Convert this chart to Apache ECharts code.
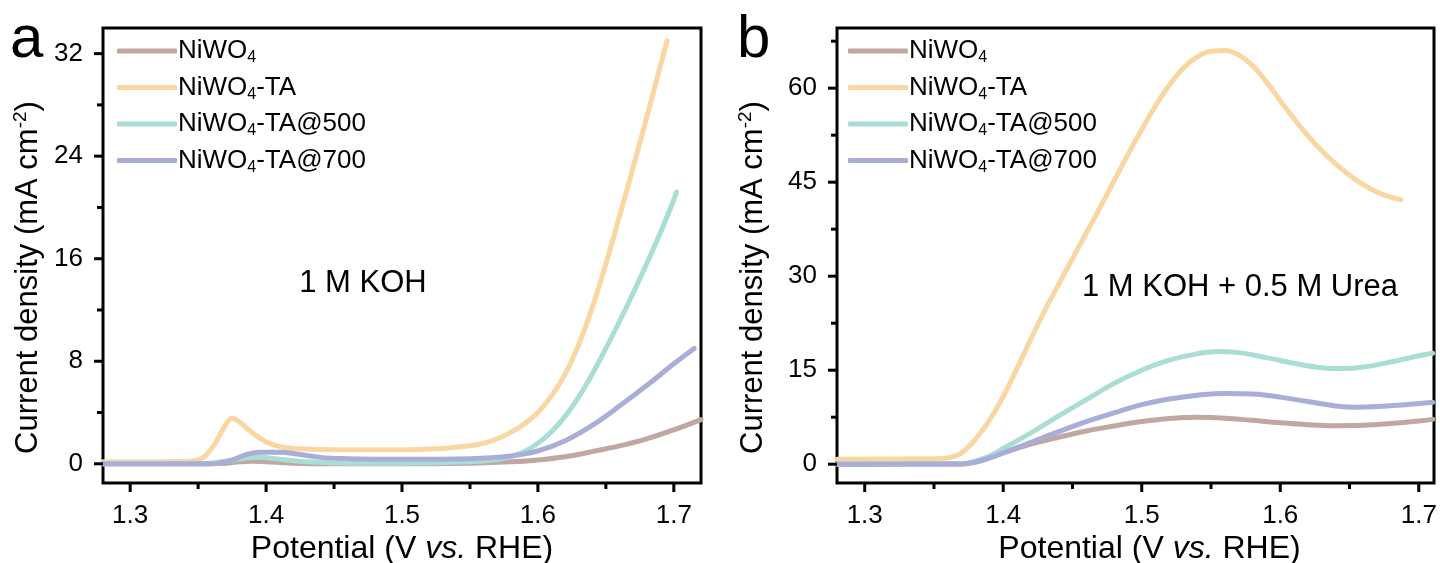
<!DOCTYPE html>
<html>
<head>
<meta charset="utf-8">
<script src="https://cdn.jsdelivr.net/npm/echarts@6/dist/echarts.min.js"></script>
<style>
html,body{margin:0;padding:0;background:#fff;}
#c{width:1440px;height:563px;}
</style>
</head>
<body>
<div id="c"></div>
<script>
// ---------- data ----------
const seriesNames = ['NiWO4', 'NiWO4-TA', 'NiWO4-TA@500', 'NiWO4-TA@700'];
const legendLabels = ['NiWO{s|4}', 'NiWO{s|4}-TA', 'NiWO{s|4}-TA@500', 'NiWO{s|4}-TA@700'];
const colors = ['#C0A7A1', '#F9D6A2', '#AADED4', '#A8AED8'];

const xMajorTicks = [1.3, 1.4, 1.5, 1.6, 1.7];
const xMinorTicks = [1.35, 1.45, 1.55, 1.65];
const yMajorTicksA = [0, 8, 16, 24, 32];
const yMinorTicksA = [4, 12, 20, 28];
const yMajorTicksB = [0, 15, 30, 45, 60];
const yMinorTicksB = [7.5, 22.5, 37.5, 52.5, 67.5];

// Panel a: 1 M KOH
const a_NiWO4 = [[1.28,0],[1.35,0],[1.37,0.05],[1.38,0.15],[1.39,0.2],[1.40,0.15],[1.42,0.05],[1.45,0],[1.50,0],[1.55,0.05],[1.58,0.15],[1.60,0.3],[1.62,0.55],[1.64,0.95],[1.66,1.4],[1.68,1.95],[1.70,2.65],[1.72,3.45]];
const a_TA = [[1.28,0.15],[1.34,0.18],[1.35,0.3],[1.36,1.2],[1.37,3.0],[1.375,3.55],[1.38,3.3],[1.39,2.4],[1.40,1.7],[1.41,1.35],[1.42,1.2],[1.45,1.1],[1.50,1.1],[1.53,1.2],[1.55,1.4],[1.56,1.6],[1.57,1.95],[1.58,2.45],[1.59,3.1],[1.60,4.0],[1.61,5.3],[1.62,7.0],[1.63,9.3],[1.64,12.2],[1.65,15.6],[1.66,19.3],[1.67,23.1],[1.68,27.0],[1.69,31.0],[1.695,33.0]];
const a_TA500 = [[1.28,0],[1.35,0],[1.37,0.2],[1.385,0.45],[1.395,0.5],[1.41,0.35],[1.43,0.15],[1.46,0.05],[1.50,0.05],[1.55,0.15],[1.57,0.33],[1.58,0.55],[1.59,0.95],[1.60,1.6],[1.61,2.5],[1.62,3.7],[1.63,5.2],[1.64,7.0],[1.65,9.0],[1.66,11.1],[1.67,13.3],[1.68,15.6],[1.69,18.0],[1.70,20.6],[1.702,21.2]];
const a_TA700 = [[1.28,0],[1.36,0],[1.375,0.3],[1.385,0.7],[1.395,0.9],[1.41,0.9],[1.42,0.8],[1.44,0.5],[1.46,0.4],[1.50,0.35],[1.55,0.4],[1.58,0.6],[1.60,1.0],[1.62,1.8],[1.64,3.0],[1.66,4.5],[1.68,6.1],[1.70,7.8],[1.715,9.0]];

// Panel b: 1 M KOH + 0.5 M Urea
const b_NiWO4 = [[1.28,0],[1.37,0.05],[1.38,0.35],[1.39,1.0],[1.40,1.8],[1.42,3.2],[1.44,4.3],[1.46,5.3],[1.48,6.1],[1.50,6.8],[1.52,7.3],[1.54,7.5],[1.56,7.35],[1.58,7.0],[1.60,6.6],[1.62,6.3],[1.64,6.15],[1.66,6.2],[1.68,6.5],[1.70,6.9],[1.71,7.15]];
const b_TA = [[1.28,0.8],[1.35,0.85],[1.36,1.0],[1.365,1.3],[1.37,1.8],[1.375,2.8],[1.38,4.0],[1.39,7.0],[1.40,10.8],[1.41,15.3],[1.42,20.0],[1.43,24.5],[1.44,28.7],[1.45,32.8],[1.46,36.9],[1.47,41.0],[1.48,45.2],[1.49,49.4],[1.50,53.4],[1.51,57.2],[1.52,60.5],[1.53,63.2],[1.54,65.0],[1.55,65.9],[1.56,66.0],[1.57,65.3],[1.58,63.6],[1.59,61.0],[1.60,58.0],[1.61,55.1],[1.62,52.4],[1.63,50.0],[1.64,47.9],[1.65,46.1],[1.66,44.6],[1.67,43.4],[1.68,42.6],[1.687,42.2]];
const b_TA500 = [[1.28,0.05],[1.37,0.1],[1.38,0.5],[1.39,1.3],[1.40,2.5],[1.42,5.0],[1.44,7.7],[1.46,10.3],[1.48,12.9],[1.50,15.0],[1.52,16.6],[1.54,17.6],[1.555,18.0],[1.57,17.8],[1.59,17.0],[1.61,16.1],[1.63,15.4],[1.645,15.25],[1.66,15.5],[1.68,16.3],[1.70,17.3],[1.71,17.7]];
const b_TA700 = [[1.28,0],[1.37,0.05],[1.38,0.35],[1.39,1.0],[1.40,1.8],[1.42,3.5],[1.44,5.2],[1.46,6.8],[1.48,8.2],[1.50,9.5],[1.52,10.4],[1.54,11.0],[1.56,11.3],[1.58,11.2],[1.60,10.7],[1.62,10.0],[1.64,9.3],[1.655,9.1],[1.67,9.2],[1.69,9.5],[1.71,9.9]];

const panelAData = [a_NiWO4, a_TA, a_TA500, a_TA700];
const panelBData = [b_NiWO4, b_TA, b_TA500, b_TA700];

// axis ranges
const xRangeA = [1.28, 1.72], yRangeA = [-1.5, 34];
const xRangeB = [1.28, 1.711], yRangeB = [-3, 69.6];

// ---------- chart ----------
const FONT = 'Liberation Sans, Arial, sans-serif';
const chart = echarts.init(document.getElementById('c'), null, {renderer: 'canvas'});

// axis index layout per grid -> x: [label], y: [label, helper]
const X_PER = 1, Y_PER = 2;

function xAxis(g, range, namePad) {
  return {
    type: 'value', gridIndex: g, min: range[0], max: range[1], position: 'bottom', splitLine: {show: false},
    name: 'Potential (V {i|vs.} RHE)', nameLocation: 'middle', nameGap: 50, nameMoveOverlap: false,
    nameTextStyle: {fontFamily: FONT, fontSize: 32, color: '#000', padding: namePad,
      rich: {i: {fontFamily: FONT, fontSize: 32, fontStyle: 'italic', color: '#000'}}},
    axisLine: {show: false, onZero: true, onZeroAxisIndex: g * Y_PER + 1},
    axisTick: {show: false},
    axisLabel: {show: true, margin: 20, fontFamily: FONT, fontSize: 26, color: '#000', customValues: xMajorTicks}
  };
}

function yAxes(g, range, majors, gap) {
  return [
    {
      type: 'value', gridIndex: g, min: range[0], max: range[1], position: 'left', splitLine: {show: false},
      name: 'Current density (mA cm{sup|-2})', nameLocation: 'middle', nameGap: gap, nameRotate: 90,
      nameTextStyle: {fontFamily: FONT, fontSize: 31, color: '#000', padding: [0, 44, 0, 0],
        rich: {sup: {fontFamily: FONT, fontSize: 19, color: '#000', padding: [0, 0, 15, 0]}}},
      axisLine: {show: false},
      axisTick: {show: false},
      axisLabel: {show: true, margin: 20, fontFamily: FONT, fontSize: 26, color: '#000', customValues: majors}
    },
    // hidden helper axis that never crosses zero, so the x axis sits at the bottom edge
    {type: 'value', gridIndex: g, min: 1, max: 2, position: 'right', show: false, axisLine: {show: false}, axisTick: {show: false}, axisLabel: {show: false}, splitLine: {show: false}}
  ];
}

function makeSeries(dataSets, g) {
  return dataSets.map((d, i) => ({
    type: 'line', name: seriesNames[i], data: d,
    xAxisIndex: g * X_PER, yAxisIndex: g * Y_PER,
    smooth: 0.4, showSymbol: false, symbol: 'none',
    lineStyle: {color: colors[i], width: 5, cap: 'round', join: 'round'},
    itemStyle: {color: colors[i]},
    z: 2 + i,
    animation: false
  }));
}

// outward tick marks drawn through the panel's own scales
function tickSeries(g, xr, yr, values, dir, len) {
  return {
    type: 'custom', xAxisIndex: g * X_PER, yAxisIndex: g * Y_PER, silent: true, clip: false, z: 20,
    data: values.map(v => [v]),
    renderItem: (params, api) => {
      const v = api.value(0);
      if (dir === 'x') {
        const p = api.coord([v, yr[0]]);
        return {type: 'line', shape: {x1: p[0], y1: p[1], x2: p[0], y2: p[1] + len}, style: {stroke: '#000', lineWidth: 3}};
      }
      const p = api.coord([xr[0], v]);
      return {type: 'line', shape: {x1: p[0], y1: p[1], x2: p[0] - len, y2: p[1]}, style: {stroke: '#000', lineWidth: 3}};
    }
  };
}

function panelTicks(g, xr, yr, yMaj, yMin) {
  return [
    tickSeries(g, xr, yr, xMajorTicks, 'x', 9),
    tickSeries(g, xr, yr, xMinorTicks, 'x', 6),
    tickSeries(g, xr, yr, yMaj, 'y', 9),
    tickSeries(g, xr, yr, yMin, 'y', 6)
  ];
}

function legend(left) {
  return {
    orient: 'vertical', left, top: 33, itemWidth: 60, itemHeight: 5, itemGap: 8.5,
    icon: 'roundRect',
    data: seriesNames,
    formatter: (name) => legendLabels[seriesNames.indexOf(name)],
    textStyle: {fontFamily: FONT, fontSize: 26, color: '#000', padding: [0, 0, 0, -4],
      rich: {s: {fontFamily: FONT, fontSize: 16, color: '#000', padding: [14, 0, 0, 0]}}},
    selectedMode: false
  };
}

const gridBase = {top: 28, bottom: 80, show: true, borderColor: '#000', borderWidth: 3, backgroundColor: 'transparent', outerBoundsMode: 'none', containLabel: false};

const option = {
  animation: false,
  backgroundColor: '#fff',
  grid: [
    Object.assign({left: 103, right: 739}, gridBase),
    Object.assign({left: 837, right: 6}, gridBase)
  ],
  xAxis: [xAxis(0, xRangeA, [0, 0, 0, 0]), xAxis(1, xRangeB, [0, 0, 0, 28])],
  yAxis: [...yAxes(0, yRangeA, yMajorTicksA, 58), ...yAxes(1, yRangeB, yMajorTicksB, 67)],
  legend: [legend(112), legend(843)],
  series: [
    ...makeSeries(panelAData, 0),
    ...makeSeries(panelBData, 1),
    ...panelTicks(0, xRangeA, yRangeA, yMajorTicksA, yMinorTicksA),
    ...panelTicks(1, xRangeB, yRangeB, yMajorTicksB, yMinorTicksB)
  ],
  graphic: [
    {type: 'text', left: 10, top: 10, style: {text: 'a', font: '60px ' + FONT, fill: '#000'}},
    {type: 'text', left: 737, top: 10, style: {text: 'b', font: '60px ' + FONT, fill: '#000'}},
    {type: 'text', x: 363, y: 283, style: {text: '1 M KOH', font: '31px ' + FONT, fill: '#000', align: 'center', verticalAlign: 'middle'}},
    {type: 'text', x: 1240, y: 287, style: {text: '1 M KOH + 0.5 M Urea', font: '31px ' + FONT, fill: '#000', align: 'center', verticalAlign: 'middle'}}
  ]
};
chart.setOption(option);
</script>
</body>
</html>
